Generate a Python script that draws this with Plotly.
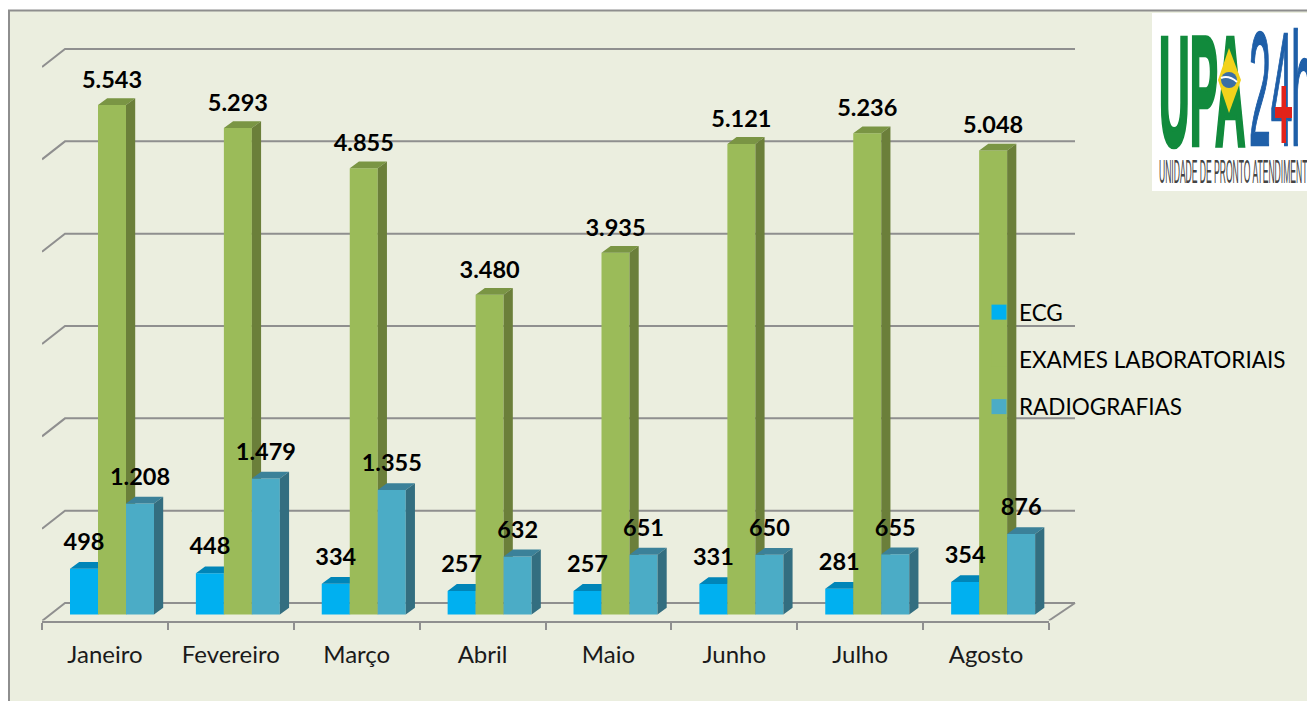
import base64
import plotly.graph_objects as go

W, H = 1307, 701

months = ["Janeiro", "Fevereiro", "Março", "Abril", "Maio", "Junho", "Julho", "Agosto"]
ecg = [498, 448, 334, 257, 257, 331, 281, 354]
exames = [5543, 5293, 4855, 3480, 3935, 5121, 5236, 5048]
radiografias = [1208, 1479, 1355, 632, 651, 650, 655, 876]
grid_ticks = [0, 1000, 2000, 3000, 4000, 5000, 6000]

FONT = "Lato, Carlito, Calibri, sans-serif"
BG = "#EBEEDF"
GRID = "#8F8F8F"

# pixel geometry of the frame
X0, X1 = 42.0, 1049.0        # front floor edge
XG = 1090.0                  # right end of the plot that holds the back wall
Y_FLOOR, Y_TOP = 620.5, 10.0
Y_BASE = 614.5               # where the bars stand
K = 0.0919                   # pixels per unit of value
PX_CAT = (X1 - X0) / 8

def val(py):
    return (Y_BASE - py) / K

def cat(px):
    return (px - X0) / PX_CAT

YR = [val(Y_FLOOR), val(Y_TOP)]
XR = [0, 8]
BAR_W = 28 / PX_CAT
DX = 9.2 / PX_CAT
DY = 6.8 / K
START = 28 / PX_CAT
LABEL_GAP = [25, 23, 24.5]   # px from bar top to label centre, per series

series = [
    ("ECG", ecg, 0, "#00B0F0", "#0085B8", "#007AA8"),
    ("EXAMES LABORATORIAIS", exames, 1, "#9BBB59", "#7A9544", "#6B7F3A"),
    ("RADIOGRAFIAS", radiografias, 2, "#4BACC6", "#3B8199", "#336E80"),
]

fig = go.Figure()

# back wall grid with its slanted returns, plus the right floor edge
gx, gy = [], []
for t in grid_ticks:
    py = 603 - t * 92.33 / 1000
    gx += [cat(42), cat(65), cat(1075), None]
    gy += [val(py + 18), val(py), val(py), None]
gx += [cat(1049), cat(1075), None]
gy += [val(620.5), val(603), None]
fig.add_trace(go.Scatter(x=gx, y=gy, mode="lines", line=dict(color=GRID, width=2),
                         showlegend=False, hoverinfo="skip", xaxis="x", yaxis="y"))

for idx, (name, vals, slot, face, top, side) in enumerate(series):
    xa, ya = f"x{idx + 2}", f"y{idx + 2}"
    lefts = [i + START + slot * BAR_W for i in range(len(vals))]
    tx, ty, sx, sy = [], [], [], []
    for l, v in zip(lefts, vals):
        r = l + BAR_W
        tx += [l, l + DX, r + DX, r, l, None]
        ty += [v, v + DY, v + DY, v, v, None]
        sx += [r, r + DX, r + DX, r, r, None]
        sy += [0, DY, v + DY, v, 0, None]
    fig.add_trace(go.Scatter(x=tx, y=ty, mode="lines", fill="toself", fillcolor=top,
                             line=dict(width=0, color=top), showlegend=False, hoverinfo="skip",
                             xaxis=xa, yaxis=ya))
    fig.add_trace(go.Scatter(x=sx, y=sy, mode="lines", fill="toself", fillcolor=side,
                             line=dict(width=0, color=side), showlegend=False, hoverinfo="skip",
                             xaxis=xa, yaxis=ya))
    fig.add_trace(go.Bar(x=[i + 0.5 for i in range(len(vals))], y=vals, width=BAR_W,
                         offset=START + slot * BAR_W - 0.5, marker=dict(color=face, line=dict(width=0)),
                         name=name, showlegend=False, xaxis=xa, yaxis=ya))

# data labels
lab_x, lab_y, lab_t = [], [], []
for name, vals, slot, *_ in series:
    for i, v in enumerate(vals):
        lab_x.append(i + START + (slot + 0.5) * BAR_W)
        lab_y.append(v + LABEL_GAP[slot] / K)
        lab_t.append(f"{v:,}".replace(",", "."))
fig.add_trace(go.Scatter(x=lab_x, y=lab_y, text=lab_t, mode="text", textposition="middle center",
                         textfont=dict(family=FONT, size=23.5, color="#000000", weight="bold"),
                         cliponaxis=False, showlegend=False, hoverinfo="skip", xaxis="x5", yaxis="y5"))

# legend entries
for name, vals, slot, face, *_ in series:
    fig.add_trace(go.Scatter(x=[None], y=[None], mode="markers", name=name, legendgroup=name,
                             marker=dict(symbol="square", size=15, color=face),
                             xaxis="x5", yaxis="y5"))

# logo (the reference carries it as a picture)
logo = """<svg xmlns="http://www.w3.org/2000/svg" width="620" height="712" viewBox="0 0 155 178">
<rect width="155" height="178" fill="#FFFFFF"/>
<g font-family="Liberation Sans">
<text transform="translate(7,132) scale(0.425,1.56)" font-size="100" font-weight="bold" fill="#118A3C" stroke="#118A3C" stroke-width="3">UPA</text>
<polygon points="77,35 89,67 77,100 66,67" fill="#F2D21B"/>
<circle cx="77" cy="67" r="8" fill="#3B6FA5"/>
<path d="M69,65 Q77,62 85,69" stroke="#FFFFFF" stroke-width="2" fill="none"/>
<text transform="translate(97,132) scale(0.39,1.62)" font-size="100" fill="#1F5FA8" stroke="#1F5FA8" stroke-width="1.5">24</text>
<text transform="translate(139,132) scale(0.42,1.6)" font-size="100" fill="#1F5FA8" stroke="#1F5FA8" stroke-width="1.5">h</text>
<rect x="123" y="94" width="17" height="11" fill="#E2231A"/>
<rect x="129.5" y="73" width="4.5" height="57" fill="#E2231A"/>
<text transform="translate(7,170) scale(0.345,1.0)" font-size="33" fill="#444444" textLength="430" lengthAdjust="spacingAndGlyphs">UNIDADE DE PRONTO ATENDIMENT</text>
</g></svg>"""
logo_uri = "data:image/svg+xml;base64," + base64.b64encode(logo.encode("utf-8")).decode()

hidden = dict(visible=False, fixedrange=True)
y_domain = [1 - Y_FLOOR / H, 1 - Y_TOP / H]
layout_axes = dict(
    xaxis=dict(domain=[X0 / W, XG / W], range=[0, cat(XG)], anchor="y", **hidden),
    yaxis=dict(domain=y_domain, range=YR, anchor="x", **hidden),
    xaxis2=dict(domain=[X0 / W, X1 / W], range=XR, anchor="y2", showgrid=False, zeroline=False,
                showline=True, linecolor=GRID, linewidth=2,
                tickmode="array", tickvals=[i + 0.5 for i in range(len(months))], ticktext=months,
                ticks="outside", ticklen=12, tickcolor="rgba(0,0,0,0)",
                tickfont=dict(family=FONT, size=24, color="#1A1A1A"),
                minor=dict(tickmode="array", tickvals=list(range(len(months) + 1)), ticks="outside",
                           ticklen=7, tickwidth=2, tickcolor=GRID, showgrid=False)),
    yaxis2=dict(domain=y_domain, range=YR, anchor="x2", **hidden),
)
for n in (3, 4, 5):
    layout_axes[f"xaxis{n}"] = dict(overlaying="x2", range=XR, **hidden)
    layout_axes[f"yaxis{n}"] = dict(overlaying="y2", range=YR, **hidden)

fig.update_layout(
    width=W, height=H, margin=dict(l=0, r=0, t=0, b=0), autosize=False,
    paper_bgcolor="#FFFFFF", plot_bgcolor="rgba(0,0,0,0)",
    barmode="overlay", font=dict(family=FONT, color="#000000"),
    legend=dict(x=979 / W, y=1 - 291 / H, xanchor="left", yanchor="top", bgcolor="rgba(0,0,0,0)",
                font=dict(family=FONT, size=22.5, color="#000000"), tracegroupgap=15,
                itemsizing="trace"),
    shapes=[dict(type="rect", xref="paper", yref="paper", x0=9 / W, x1=1.02, y0=-0.02, y1=1 - 10.5 / H,
                 fillcolor=BG, line=dict(color="#8E8E8E", width=2), layer="below")],
    images=[dict(source=logo_uri, xref="paper", yref="paper", x=1152 / W, y=1 - 13 / H,
                 sizex=155 / W, sizey=178 / H, xanchor="left", yanchor="top",
                 sizing="stretch", layer="above")],
    **layout_axes,
)

fig.write_html("out.html", config=dict(displayModeBar=False),
               post_script="document.body.style.margin='0';document.documentElement.style.overflow='hidden';")
